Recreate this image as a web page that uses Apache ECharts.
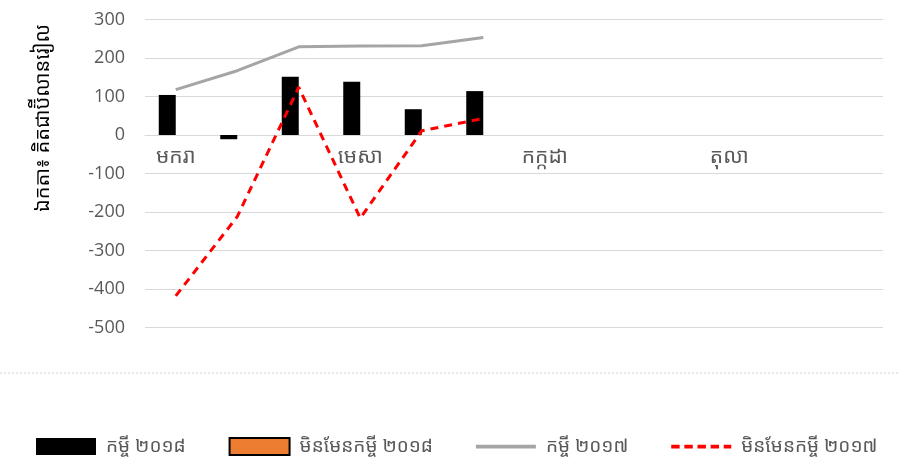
<!DOCTYPE html>
<html>
<head>
<meta charset="utf-8">
<script src="https://cdn.jsdelivr.net/npm/echarts@6/dist/echarts.min.js"></script>
<style>
  html, body { margin: 0; padding: 0; background: #fff; }
  #chart { width: 898px; height: 476px; }
</style>
</head>
<body>
<div id="chart"></div>
<script>
  // months (Khmer)
  var months = ['មករា', 'កុម្ភៈ', 'មីនា', 'មេសា', 'ឧសភា', 'មិថុនា',
                'កក្កដា', 'សីហា', 'កញ្ញា', 'តុលា', 'វិច្ឆិកា', 'ធ្នូ'];
  var seriesNames = ['កម្ចី ២០១៨', 'មិនមែនកម្ចី ២០១៨', 'កម្ចី ២០១៧', 'មិនមែនកម្ចី ២០១៧'];
  var loan2018 = [104, -11, 151, 138, 67, 114];
  var nonLoan2018 = [];
  var loan2017 = [118, 167, 229, 231, 232, 253];
  var nonLoan2017 = [-418, -212, 124, -216, 11, 43];
  var yTitle = 'ឯកតា៖ គិតជាប៊ីលានរៀល';

  var font = "'Noto Sans Khmer', 'Khmer OS', 'Noto Sans', sans-serif";
  var textColor = '#595959';

  var yMin = -500, yMax = 300;
  var gridTop = 19.5, gridBottom = 148.5;
  var plotH = 476 - gridTop - gridBottom;
  // shift the category axis up to the zero line
  var zeroOffset = -plotH * (0 - yMin) / (yMax - yMin);

  var chart = echarts.init(document.getElementById('chart'));
  var option = {
    backgroundColor: '#fff',
    textStyle: { fontFamily: font },
    grid: { left: 145, right: 15, top: gridTop, bottom: gridBottom },
    xAxis: {
      type: 'category',
      data: months,
      offset: zeroOffset,
      axisLine: { onZero: false, lineStyle: { color: '#d9d9d9' } },
      axisTick: { show: false },
      axisLabel: { interval: 2, color: textColor, fontSize: 21, margin: 12, fontFamily: font }
    },
    yAxis: {
      type: 'value',
      min: yMin,
      max: yMax,
      interval: 100,
      axisLine: { show: false },
      axisTick: { show: false },
      splitLine: { lineStyle: { color: '#d9d9d9' } },
      axisLabel: { color: textColor, fontSize: 18, margin: 20, fontFamily: 'Open Sans, sans-serif' }
    },
    legend: {
      left: 31,
      top: 432,
      itemWidth: 60,
      itemHeight: 17,
      itemGap: 43,
      textStyle: { color: textColor, fontSize: 19, fontFamily: font, padding: [0, 0, 0, 5] },
      data: [
        { name: seriesNames[0], icon: 'rect' },
        { name: seriesNames[1], icon: 'rect' },
        { name: seriesNames[2], icon: 'path://M0,0h64v4h-64z' },
        { name: seriesNames[3], icon: 'path://M0,0h9v4h-9z M14,0h9v4h-9z M28,0h9v4h-9z M42,0h9v4h-9z M56,0h8v4h-8z' }
      ]
    },
    graphic: [
      {
        type: 'text',
        x: 43, y: 118,
        rotation: Math.PI / 2,
        style: {
          text: yTitle,
          fill: '#000',
          fontSize: 20,
          fontFamily: font,
          align: 'center',
          verticalAlign: 'middle'
        }
      },
      {
        type: 'line',
        shape: { x1: 0, y1: 373, x2: 898, y2: 373 },
        style: { stroke: '#d0d0d0', lineWidth: 1, lineDash: [2, 2] }
      }
    ],
    series: [
      {
        name: seriesNames[0],
        type: 'bar',
        data: loan2018,
        barWidth: 17,
        barGap: '0%',
        itemStyle: { color: '#000' }
      },
      {
        name: seriesNames[1],
        type: 'bar',
        data: nonLoan2018,
        barWidth: 17,
        itemStyle: { color: '#ed7d31', borderColor: '#000', borderWidth: 1.5 }
      },
      {
        name: seriesNames[2],
        type: 'line',
        data: loan2017,
        symbol: 'none',
        lineStyle: { color: '#a5a5a5', width: 3 },
        itemStyle: { color: '#a5a5a5' }
      },
      {
        name: seriesNames[3],
        type: 'line',
        data: nonLoan2017,
        symbol: 'none',
        lineStyle: { color: '#ff0000', width: 3, type: [8, 6] },
        itemStyle: { color: '#ff0000' }
      }
    ]
  };
  chart.setOption(option);
</script>
</body>
</html>
